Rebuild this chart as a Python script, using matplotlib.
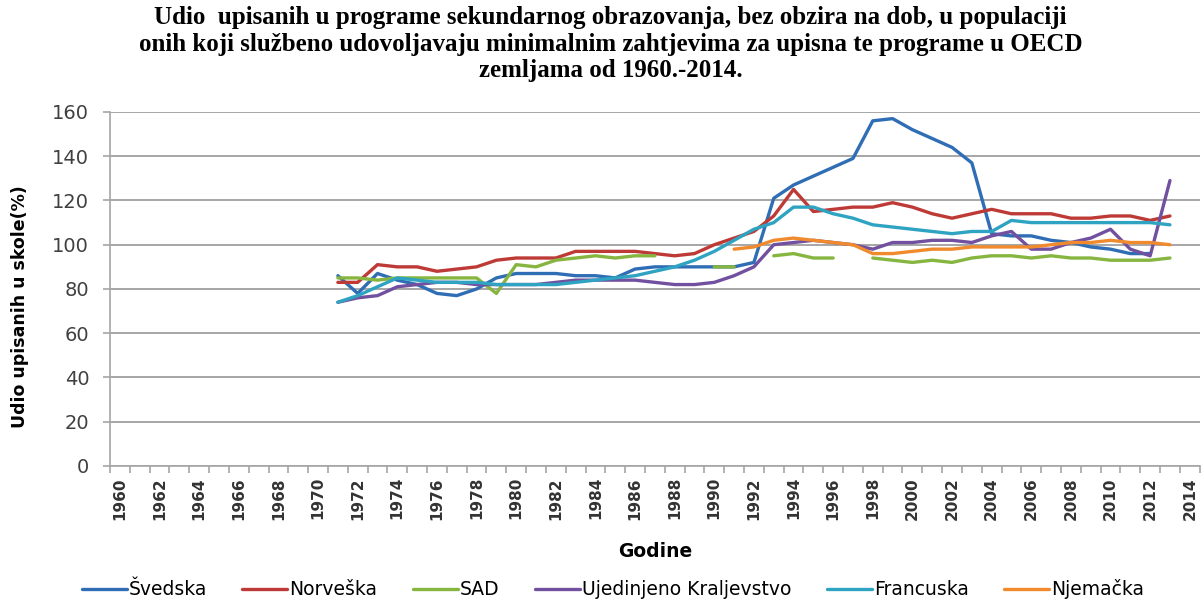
import numpy as np
import matplotlib.pyplot as plt

nan = np.nan

years = list(range(1971, 2014))

svedska = [86, 78, 87, 84, 82, 78, 77, 80, 85, 87,
           87, 87, 86, 86, 85, 89, 90, 90, 90, 90,
           90, 92, 121, 127, 131, 135, 139, 156, 157, 152,
           148, 144, 137, 105, 104, 104, 102, 101, 99, 98,
           96, 96, nan]
norveska = [83, 83, 91, 90, 90, 88, 89, 90, 93, 94,
            94, 94, 97, 97, 97, 97, 96, 95, 96, 100,
            103, 106, 113, 125, 115, 116, 117, 117, 119, 117,
            114, 112, 114, 116, 114, 114, 114, 112, 112, 113,
            113, 111, 113]
sad = [85, 85, 84, 85, 85, 85, 85, 85, 78, 91,
       90, 93, 94, 95, 94, 95, 95, nan, nan, 90,
       90, nan, 95, 96, 94, 94, nan, 94, 93, 92,
       93, 92, 94, 95, 95, 94, 95, 94, 94, 93,
       93, 93, 94]
uk = [74, 76, 77, 81, 82, 83, 83, 82, 82, 82,
      82, 83, 84, 84, 84, 84, 83, 82, 82, 83,
      86, 90, 100, 101, 102, 101, 100, 98, 101, 101,
      102, 102, 101, 104, 106, 98, 98, 101, 103, 107,
      98, 95, 129]
francuska = [74, 77, 81, 85, 84, 83, 83, 83, 82, 82,
             82, 82, 83, 84, 85, 86, 88, 90, 93, 97,
             102, 107, 110, 117, 117, 114, 112, 109, 108, 107,
             106, 105, 106, 106, 111, 110, 110, 110, 110, 110,
             110, 110, 109]
njemacka = [nan] * 20 + [98, 99, 102, 103, 102, 101, 100, 96, 96, 97,
                         98, 98, 99, 99, 99, 99, 100, 101, 101, 102,
                         101, 101, 100]

series = [
    ("Švedska", svedska, "#2f6db5"),
    ("Norveška", norveska, "#be3a36"),
    ("SAD", sad, "#86b540"),
    ("Ujedinjeno Kraljevstvo", uk, "#7250a0"),
    ("Francuska", francuska, "#2ea3c2"),
    ("Njemačka", njemacka, "#f08a2c"),
]

tick_years = list(range(1960, 2015, 2))

fig = plt.figure(figsize=(12.04, 6.03), dpi=100)
ax = fig.add_axes([0.0914, 0.2272, 0.905, 0.5871])

for name, vals, col in series:
    ax.plot(years, vals, color=col, lw=2.4, label=name, solid_capstyle="round")

ax.set_xlim(1959.5, 2014.5)
ax.set_ylim(0, 160)
ax.set_yticks(range(0, 161, 20))
ax.yaxis.grid(True, color="#a6a6a6", lw=1.4)
ax.set_axisbelow(True)

ax.set_xticks(tick_years)
ax.set_xticklabels([str(y) for y in tick_years], rotation=90, fontsize=11,
                   fontweight="bold", color="#333333")
ax.set_xticks(np.arange(1959.5, 2015, 1), minor=True)
ax.tick_params(axis="x", which="major", length=0, pad=8)
ax.tick_params(axis="x", which="minor", length=5, color="#a6a6a6", width=1.2)
ax.tick_params(axis="y", length=5, color="#a6a6a6", width=1.2, pad=10,
               labelsize=14, labelcolor="#404040")

for side in ["top", "right"]:
    ax.spines[side].set_visible(False)
for side in ["left", "bottom"]:
    ax.spines[side].set_color("#a6a6a6")
    ax.spines[side].set_linewidth(1.2)

ax.set_xlabel("Godine", fontsize=13.5, fontweight="bold", labelpad=16)
ax.set_ylabel("Udio upisanih u skole(%)", fontsize=12.5, fontweight="bold")
ax.yaxis.set_label_coords(-0.074, 0.45)

fig.text(0.507, 0.99,
         "Udio  upisanih u programe sekundarnog obrazovanja, bez obzira na dob, u populaciji\n"
         "onih koji službeno udovoljavaju minimalnim zahtjevima za upisna te programe u OECD\n"
         "zemljama od 1960.-2014.",
         ha="center", va="top", fontsize=18, fontweight="bold",
         family="Liberation Serif", linespacing=1.2)

fig.legend(loc="lower center", bbox_to_anchor=(0.509, -0.022), ncol=6, frameon=False,
           fontsize=13.5, handlelength=2.4, handletextpad=0.1, columnspacing=1.9)

fig.savefig("out.png", dpi=100)
